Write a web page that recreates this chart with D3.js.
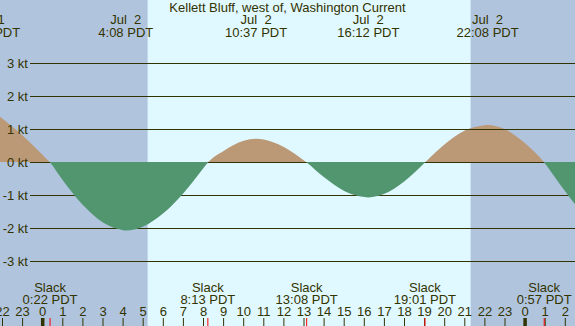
<!DOCTYPE html>
<html>
<head>
<meta charset="utf-8">
<script src="https://cdn.jsdelivr.net/npm/d3@7"></script>
<style>
  body { margin: 0; background: #fff; }
  svg { display: block; }
  text { font-family: "Liberation Sans", Arial, sans-serif; font-size: 13px; fill: #333300; }
</style>
</head>
<body>
<svg id="chart" width="575" height="326"></svg>
<script>
// hours are counted from midnight Jul 2 (PDT), negative = Jul 1
var title = "Kellett Bluff, west of, Washington Current";

var hours = [-2.2, -1.5, -1, -0.5, 0, 0.367, 1, 2, 3, 4, 4.133, 5, 6, 7, 8, 8.217,
             9, 10, 10.617, 11, 12, 13, 13.133, 14, 15, 16, 16.2, 17, 18, 19, 19.017,
             20, 21, 22, 22.133, 23, 24, 24.95, 25.5, 26, 26.6];
var knots = [1.42, 1.08, 0.82, 0.53, 0.23, 0, -0.54, -1.29, -1.82, -2.05, -2.06, -1.94, -1.54, -0.93, -0.17, 0,
             0.35, 0.66, 0.72, 0.70, 0.47, 0.06, 0, -0.45, -0.86, -1.045, -1.06, -0.95, -0.57, -0.01, 0,
             0.55, 0.97, 1.13, 1.14, 1.01, 0.58, 0, -0.46, -0.88, -1.36];

var extremeHours = [-2.667, 4.133, 10.617, 16.2, 22.133];
var extremeDates = ["Jul  1", "Jul  2", "Jul  2", "Jul  2", "Jul  2"];
var extremeTimes = ["21:20 PDT", "4:08 PDT", "10:37 PDT", "16:12 PDT", "22:08 PDT"];

var slackHours = [0.367, 8.217, 13.133, 19.017, 24.95];
var slackTimes = ["0:22 PDT", "8:13 PDT", "13:08 PDT", "19:01 PDT", "0:57 PDT"];

var sunrise = 5.22;
var sunset = 21.29;

var kt = [-3, -2, -1, 0, 1, 2, 3];
var tickHours = d3.range(-2, 27);

var W = 575, H = 326;
var svg = d3.select('#chart');

var x = d3.scaleLinear()
    .domain([-42.7 / 20.1, (W - 42.7) / 20.1])
    .range([0, W]);

var y = d3.scaleLinear()
    .domain([-3, 3])
    .range([261.5, 63.5]);

// night / day background
svg.append('rect')
    .attr('width', W).attr('height', H)
    .style('fill', '#b0c4de');
svg.append('rect')
    .attr('x', x(sunrise))
    .attr('width', x(sunset) - x(sunrise))
    .attr('height', H)
    .style('fill', '#e0f8ff');

var defs = svg.append('defs');
defs.append('clipPath').attr('id', 'above')
    .append('rect').attr('x', 0).attr('y', 0).attr('width', W).attr('height', y(0));
defs.append('clipPath').attr('id', 'below')
    .append('rect').attr('x', 0).attr('y', Math.floor(y(0))).attr('width', W).attr('height', H);

var data = hours.map(function (h, i) { return { h: h, v: knots[i] }; });

var area = d3.area()
    .x(function (d) { return x(d.h); })
    .y0(Math.floor(y(0)))
    .y1(function (d) { return y(d.v); })
    .curve(d3.curveMonotoneX);

// flood
svg.append('path')
    .datum(data)
    .attr('d', area)
    .attr('clip-path', 'url(#above)')
    .style('fill', '#bb9977');

// grid lines
svg.selectAll('line.grid')
    .data(kt)
    .enter()
    .append('line')
    .attr('class', 'grid')
    .attr('x1', 30).attr('x2', W)
    .attr('y1', function (d) { return y(d); })
    .attr('y2', function (d) { return y(d); })
    .style('stroke', '#333300')
    .style('stroke-width', 1);

// ebb
svg.append('path')
    .datum(data)
    .attr('d', area)
    .attr('clip-path', 'url(#below)')
    .style('fill', '#529670');

svg.selectAll('text.kt')
    .data(kt)
    .enter()
    .append('text')
    .attr('class', 'kt')
    .attr('x', 28)
    .attr('y', function (d) { return y(d) + 4.5; })
    .attr('text-anchor', 'end')
    .text(function (d) { return d + ' kt'; });

svg.append('text')
    .attr('x', W / 2)
    .attr('y', 12)
    .attr('text-anchor', 'middle')
    .text(title);

// max / min labels
var ext = svg.selectAll('g.ext')
    .data(extremeHours)
    .enter()
    .append('g')
    .attr('class', 'ext');
ext.append('text')
    .attr('x', function (d) { return x(d); })
    .attr('y', 24)
    .attr('text-anchor', 'middle')
    .style('white-space', 'pre')
    .text(function (d, i) { return extremeDates[i]; });
ext.append('text')
    .attr('x', function (d) { return x(d); })
    .attr('y', 36.5)
    .attr('text-anchor', 'middle')
    .text(function (d, i) { return extremeTimes[i]; });

// slack labels
var sl = svg.selectAll('g.slack')
    .data(slackHours)
    .enter()
    .append('g')
    .attr('class', 'slack');
sl.append('text')
    .attr('x', function (d) { return x(d); })
    .attr('y', 292)
    .attr('text-anchor', 'middle')
    .text('Slack');
sl.append('text')
    .attr('x', function (d) { return x(d); })
    .attr('y', 304)
    .attr('text-anchor', 'middle')
    .text(function (d, i) { return slackTimes[i]; });

// hour axis
svg.selectAll('text.hr')
    .data(tickHours)
    .enter()
    .append('text')
    .attr('class', 'hr')
    .attr('x', function (d) { return x(d); })
    .attr('y', 316)
    .attr('text-anchor', 'middle')
    .text(function (d) { return ((d % 24) + 24) % 24; });

svg.selectAll('line.hr')
    .data(tickHours)
    .enter()
    .append('line')
    .attr('class', 'hr')
    .attr('x1', function (d) { return x(d); })
    .attr('x2', function (d) { return x(d); })
    .attr('y1', 318).attr('y2', H)
    .style('stroke', '#333300')
    .style('stroke-width', function (d) { return d % 24 === 0 ? 3.5 : 1; });

svg.selectAll('line.slack')
    .data(slackHours)
    .enter()
    .append('line')
    .attr('class', 'slack')
    .attr('x1', function (d) { return x(d); })
    .attr('x2', function (d) { return x(d); })
    .attr('y1', 318).attr('y2', H)
    .style('stroke', '#ff0000')
    .style('stroke-width', 1);
</script>
</body>
</html>
